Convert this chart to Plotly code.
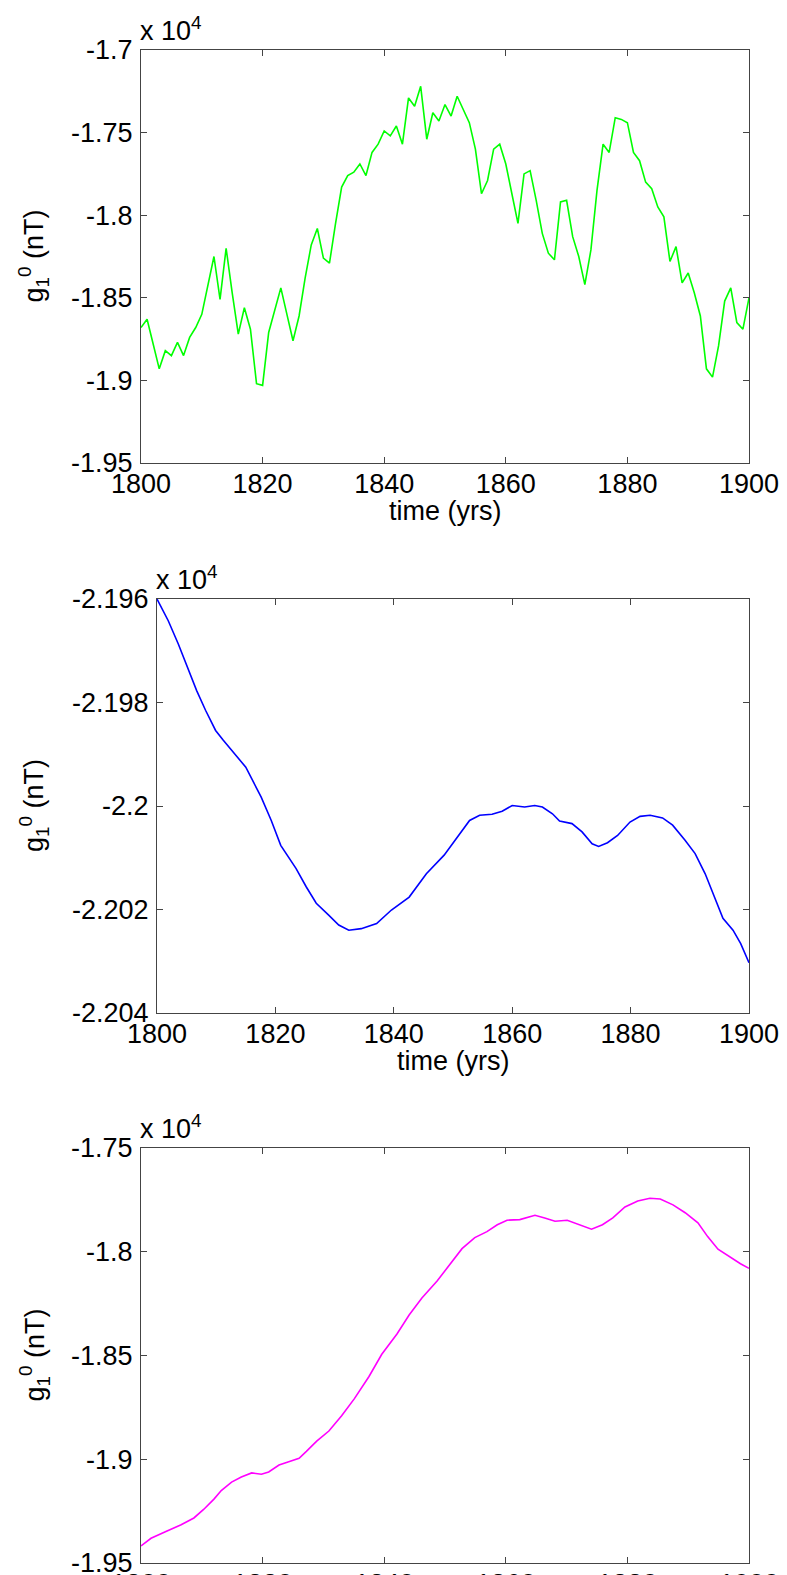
import plotly.graph_objects as go

# ---------------- data ----------------
years_green = list(range(1800, 1901))
g10_green = [
    -18680, -18630, -18780, -18930, -18820, -18850, -18770, -18850, -18740, -18680,
    -18600, -18430, -18250, -18510, -18200, -18470, -18720, -18560, -18690, -19020,
    -19030, -18710, -18570, -18440, -18600, -18760, -18610, -18380, -18180, -18080,
    -18260, -18290, -18050, -17830, -17760, -17740, -17690, -17760, -17620, -17570,
    -17490, -17520, -17460, -17570, -17290, -17340, -17220, -17540, -17380, -17430,
    -17330, -17400, -17280, -17360, -17440, -17600, -17870, -17790, -17600, -17570,
    -17690, -17870, -18050, -17750, -17730, -17910, -18110, -18230, -18270, -17920,
    -17910, -18130, -18250, -18420, -18210, -17850, -17570, -17620, -17410, -17420,
    -17440, -17620, -17670, -17800, -17840, -17950, -18010, -18280, -18190, -18410,
    -18350, -18470, -18610, -18930, -18980, -18790, -18520, -18440, -18650, -18690,
    -18500,
]

years_blue = [1800, 1801.9, 1803.6, 1805.3, 1806.7, 1808.2, 1809.9, 1811.2, 1812.6, 1815,
              1817.6, 1819.3, 1820.9, 1823.5, 1825.2, 1826.9, 1829, 1830.7, 1832.4, 1834.5,
              1837.1, 1839.6, 1842.6, 1845.5, 1848.5, 1851.1, 1852.8, 1854.5, 1856.6, 1858.3,
              1860, 1862.1, 1863.8, 1865.1, 1866.8, 1868, 1870.1, 1871.8, 1873.5, 1874.6,
              1876.1, 1877.8, 1879.9, 1881.6, 1883.3, 1885.4, 1887.1, 1889.2, 1890.9, 1892.6,
              1893.9, 1895.6, 1897.3, 1898.6, 1900]
g10_blue = [-21960.0, -21964.2, -21968.7, -21973.5, -21977.7, -21981.5, -21985.4, -21987.3, -21989.3, -21992.5,
            -21998.3, -22002.8, -22007.6, -22012.1, -22015.6, -22018.8, -22021.1, -22023.0, -22024.0, -22023.7,
            -22022.7, -22020.1, -22017.6, -22013.1, -22009.5, -22005.3, -22002.8, -22001.8, -22001.6, -22001.0,
            -21999.9, -22000.2, -21999.9, -22000.2, -22001.5, -22002.9, -22003.4, -22005.0, -22007.3, -22007.8,
            -22007.1, -22005.7, -22003.1, -22002.0, -22001.8, -22002.3, -22003.7, -22006.6, -22009.2, -22013.1,
            -22016.9, -22021.7, -22024.0, -22026.6, -22030.3]

years_magenta = [1800, 1801.65, 1804.1, 1806.6, 1808.7, 1810.3, 1812, 1813.2, 1814.9, 1816.5,
                 1818.2, 1819.8, 1821, 1822.7, 1824.3, 1826, 1827.2, 1828.9, 1830.9, 1833,
                 1835.1, 1837.5, 1839.6, 1842.1, 1844.1, 1846.2, 1848.7, 1850.7, 1852.8, 1854.9,
                 1856.9, 1858.6, 1860.2, 1862.3, 1864.8, 1866.4, 1868.1, 1870.1, 1872.2, 1874.1,
                 1875.9, 1877.6, 1879.6, 1881.7, 1883.7, 1885.4, 1887.5, 1889.5, 1891.6, 1893.2,
                 1894.9, 1896.9, 1898.6, 1900]
g10_magenta = [-19418, -19381, -19348, -19316, -19283, -19242, -19192, -19151, -19110, -19086,
               -19066, -19072, -19061, -19028, -19012, -18995, -18962, -18913, -18864, -18790,
               -18708, -18601, -18494, -18396, -18305, -18223, -18141, -18067, -17985, -17932,
               -17903, -17870, -17848, -17845, -17824, -17837, -17853, -17848, -17870, -17891,
               -17870, -17837, -17784, -17755, -17742, -17746, -17774, -17812, -17861, -17927,
               -17988, -18026, -18058, -18080]

x_ticks = [1800, 1820, 1840, 1860, 1880, 1900]
x_ticktext = ["1800", "1820", "1840", "1860", "1880", "1900"]

y1_ticks = [-19500, -19000, -18500, -18000, -17500, -17000]
y1_ticktext = ["-1.95", "-1.9", "-1.85", "-1.8", "-1.75", "-1.7"]
y2_ticks = [-22040, -22020, -22000, -21980, -21960]
y2_ticktext = ["-2.204", "-2.202", "-2.2", "-2.198", "-2.196"]
y3_ticks = [-19500, -19000, -18500, -18000, -17500]
y3_ticktext = ["-1.95", "-1.9", "-1.85", "-1.8", "-1.75"]

# ---------------- layout geometry (pixels) ----------------
W, H = 787, 1575
FONT = "Liberation Sans, Arial, Helvetica, sans-serif"
FS = 27
AXC = "#444444"

panels = [
    # (left, right, top, bottom) in px
    (141, 749, 50, 463),
    (157, 749, 599, 1013),
    (141, 749, 1148, 1563),
]

def xd(l, r):
    return [l / W, r / W]

def yd(t, b):
    return [1 - b / H, 1 - t / H]

fig = go.Figure()
series = [
    (years_green, g10_green, "#00ff00"),
    (years_blue, g10_blue, "#0000ff"),
    (years_magenta, g10_magenta, "#ff00ff"),
]
yticks = [(y1_ticks, y1_ticktext, [-19500, -17000]),
          (y2_ticks, y2_ticktext, [-22040, -21960]),
          (y3_ticks, y3_ticktext, [-19500, -17500])]

axis_common = dict(
    showline=True, linecolor=AXC, linewidth=1, mirror="ticks",
    ticks="inside", ticklen=6, tickcolor=AXC, tickwidth=1,
    showgrid=False, zeroline=False, automargin=False,
    ticklabeloverflow="allow",
    tickfont=dict(family=FONT, size=FS, color="black"),
)

annotations = []
for i, ((xs, ys, col), (tv, tt, rng), (l, r, t, b)) in enumerate(zip(series, yticks, panels)):
    n = "" if i == 0 else str(i + 1)
    fig.add_trace(go.Scatter(x=xs, y=ys, mode="lines", line=dict(color=col, width=1.6),
                             xaxis="x" + n, yaxis="y" + n, showlegend=False))
    fig.update_layout(**{
        "xaxis" + n: dict(domain=xd(l, r), anchor="y" + n, range=[1800, 1900],
                          tickvals=x_ticks, ticktext=x_ticktext, ticklabelstandoff=-3,
                          **axis_common),
        "yaxis" + n: dict(domain=yd(t, b), anchor="x" + n, range=rng,
                          tickvals=tv, ticktext=tt, ticklabelstandoff=2,
                          **axis_common),
    })
    # exponent label
    annotations.append(dict(xref="paper", yref="paper", x=(l - 3) / W, y=1 - (t - 2) / H,
                            xanchor="left", yanchor="bottom", showarrow=False,
                            text="x 10<sup>4</sup>", font=dict(family=FONT, size=FS, color="black")))
    # y title
    annotations.append(dict(xref="paper", yref="paper", x=34 / W, y=1 - ((t + b) / 2) / H,
                            xanchor="center", yanchor="middle", showarrow=False, textangle=-90,
                            text="g<sub>1</sub><sup>0</sup> (nT)",
                            font=dict(family=FONT, size=FS, color="black")))
    # x title (the bottom panel's title lies below the visible page, as in the original)
    if i < 2:
        annotations.append(dict(xref="paper", yref="paper", x=((l + r) / 2) / W, y=1 - (b + 48) / H,
                                xanchor="center", yanchor="middle", showarrow=False,
                                text="time (yrs)", font=dict(family=FONT, size=FS, color="black")))

fig.update_layout(
    width=W, height=H, autosize=False,
    margin=dict(l=0, r=0, t=0, b=0, pad=0),
    paper_bgcolor="white", plot_bgcolor="white",
    annotations=annotations,
    font=dict(family=FONT, size=FS, color="black"),
)

fig.write_html("out.html")
